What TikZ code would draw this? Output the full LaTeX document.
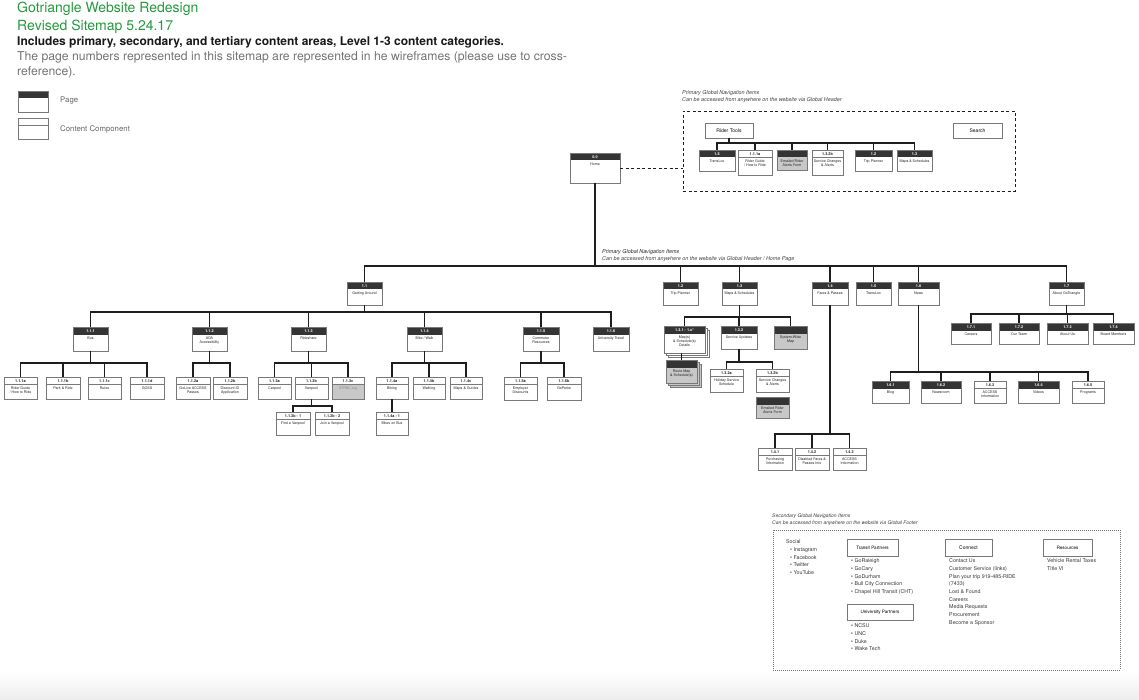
\documentclass[tikz,border=0pt]{standalone}
\usepackage{fontspec}
\setmainfont{TeX Gyre Heros}
\usetikzlibrary{calc}
\definecolor{gtgreen}{RGB}{38,152,62}
\definecolor{hdrc}{RGB}{52,52,52}
\definecolor{lnc}{RGB}{30,30,30}
\definecolor{gboxc}{RGB}{200,200,200}
\definecolor{bordc}{RGB}{120,120,120}
\tikzset{
  conn/.style={draw=lnc, line width=1.1pt},
  boxn/.style={rectangle, fill=white, inner sep=0pt, outer sep=0pt, anchor=north west},
  bord/.style={draw=bordc, line width=0.5pt},
  numw/.style={text=white, font=\bfseries\fontsize{3.8}{4}\selectfont, inner sep=0pt},
  numb/.style={text=black!85, font=\bfseries\fontsize{3.8}{4}\selectfont, inner sep=0pt},
  lbl/.style={anchor=north, align=center, text=black!85, inner sep=0pt, font=\fontsize{3.6}{4.3}\selectfont},
  plainbox/.style={rectangle, draw=bordc, line width=0.6pt, fill=white, inner sep=0pt, outer sep=0pt, anchor=north west},
  txt/.style={inner sep=0pt, anchor=west},
  hd/.style={txt, text=black!75, font=\itshape\fontsize{5.4}{6}\selectfont},
  list/.style={inner sep=0pt, anchor=north west, align=left, text=black!80, font=\fontsize{5.3}{7.7}\selectfont},
}
% name x1 y1 x2 y2 number label
\newcommand\pagenode[7]{%
  \node[boxn, minimum width={#4-#2}, minimum height={#5-#3}] (#1) at (#2,#3) {};
  \fill[hdrc] (#1.north west) rectangle ([yshift=-7.5pt]#1.north east);
  \node[numw] at ([yshift=-3.75pt]#1.north) {#6};
  \node[lbl] at ([yshift=-9.3pt]#1.north) {#7};
  \draw[bord] (#1.north west) rectangle (#1.south east);
}
\newcommand\compnode[7]{%
  \node[boxn, minimum width={#4-#2}, minimum height={#5-#3}] (#1) at (#2,#3) {};
  \draw[bord] ([yshift=-7.5pt]#1.north west) -- ([yshift=-7.5pt]#1.north east);
  \node[numb] at ([yshift=-3.75pt]#1.north) {#6};
  \node[lbl] at ([yshift=-9.3pt]#1.north) {#7};
  \draw[bord] (#1.north west) rectangle (#1.south east);
}
\newcommand\graycomp[7]{%
  \node[boxn, fill=gboxc, minimum width={#4-#2}, minimum height={#5-#3}] (#1) at (#2,#3) {};
  \fill[white] (#1.north west) rectangle ([yshift=-7.5pt]#1.north east);
  \draw[bord] ([yshift=-7.5pt]#1.north west) -- ([yshift=-7.5pt]#1.north east);
  \node[numb] at ([yshift=-3.75pt]#1.north) {#6};
  \node[lbl, text=black!45] at ([yshift=-9.3pt]#1.north) {#7};
  \draw[bord] (#1.north west) rectangle (#1.south east);
}
% name x1 y1 x2 y2 label
\newcommand\graypage[6]{%
  \node[boxn, fill=gboxc, minimum width={#4-#2}, minimum height={#5-#3}] (#1) at (#2,#3) {};
  \fill[hdrc] (#1.north west) rectangle ([yshift=-7.5pt]#1.north east);
  \node[lbl] at ([yshift=-9.3pt]#1.north) {#6};
  \draw[bord] (#1.north west) rectangle (#1.south east);
}
% x1 y1 x2 y2 fill
\newcommand\stackbehind[5]{%
  \draw[bord, fill=#5] (#1+4,#2+4) rectangle (#3+4,#4+4);
  \draw[bord, fill=#5] (#1+2,#2+2) rectangle (#3+2,#4+2);
}
% parent, bus y, children
\newcommand\branch[3]{%
  \foreach \c in {#3}{\draw[conn] (#1.south) -- (#1.south |- 0,#2) -| (\c.north);}
}
\begin{document}
\begin{tikzpicture}[x=1pt,y=-1pt]
\useasboundingbox (0,0) rectangle (1139,700);
\shade[top color=white, bottom color=black!7] (0,672) rectangle (1139,700);

% ---------- title block
\node[txt, text=gtgreen, font=\fontsize{14}{14}\selectfont] (t1) at (17,8.5) {Gotriangle Website Redesign};
\node[txt, text=gtgreen, font=\fontsize{14}{14}\selectfont] (t2) at (17,26.5) {Revised Sitemap 5.24.17};
\node[txt, text=black!90, font=\bfseries\fontsize{12}{12}\selectfont] (t3) at (17,42.5) {Includes primary, secondary, and tertiary content areas, Level 1-3 content categories.};
\node[inner sep=0pt, anchor=north west, align=left, text=black!55, font=\fontsize{12.2}{15}\selectfont] (t4) at (17,51.5) {The page numbers represented in this sitemap are represented in he wireframes (please use to cross-\\reference).};

% ---------- legend
\node[boxn, minimum width=30, minimum height=21] (lgp) at (18,91) {};
\fill[hdrc] (lgp.north west) rectangle ([yshift=-7pt]lgp.north east);
\draw[bord] (lgp.north west) rectangle (lgp.south east);
\node[txt, text=black!60, font=\fontsize{7.8}{8}\selectfont] (lgpt) at (60,101) {Page};
\node[boxn, minimum width=30, minimum height=21] (lgc) at (18,118) {};
\draw[bord] ([yshift=-7pt]lgc.north west) -- ([yshift=-7pt]lgc.north east);
\draw[bord] (lgc.north west) rectangle (lgc.south east);
\node[txt, text=black!60, font=\fontsize{7.8}{8}\selectfont] (lgct) at (60,129) {Content Component};

% ---------- global header group
\node[hd] (gh1) at (682,93) {Primary Global Navigation Items};
\node[hd] (gh2) at (682,100.5) {Can be accessed from anywhere on the website via Global Header};
\node[rectangle, draw=lnc, line width=0.8pt, dash pattern=on 3pt off 2.5pt, inner sep=0pt, outer sep=0pt, anchor=north west, minimum width=332, minimum height=80] (gnav) at (683,111) {};

\node[plainbox, minimum width=48, minimum height=15] (rt) at (705,123) {};
\node[inner sep=0pt, font=\fontsize{5}{5}\selectfont] at (rt.center) {Rider Tools};
\node[plainbox, minimum width=49, minimum height=15] (search) at (953,123) {};
\node[inner sep=0pt, font=\fontsize{5}{5}\selectfont] at (search.center) {Search};

\pagenode{g15}{699}{150}{735}{171}{1.5}{TransLoc}
\compnode{g111a}{738}{150}{772}{175}{1.1.1a}{Rider Guide\\/ How to Ride}
\graypage{gmail}{777}{150}{807}{170}{Emailed Rider\\Alerts Form}
\compnode{g132b}{812}{150}{843}{175}{1.3.2b}{Service Changes\\\& Alerts}
\pagenode{g12}{855}{150}{892}{171}{1.2}{Trip Planner}
\pagenode{g13}{897}{150}{932}{171}{1.3}{Maps \& Schedules}
\branch{rt}{143}{g15,g111a,gmail,g132b,g12,g13}

% ---------- home
\pagenode{home}{570}{153}{620}{183}{0.0}{Home}
\draw[draw=lnc, line width=0.8pt, dash pattern=on 3pt off 2.5pt] (home.east |- 0,168) -- (gnav.west |- 0,168);

% ---------- level 1
\node[hd, text=black!85] (mh1) at (602,252) {Primary Global Navigation Items};
\node[hd] (mh2) at (602,259) {Can be accessed from anywhere on the website via Global Header / Home Page};

\pagenode{n11}{347}{282}{382}{305}{1.1}{Getting Around}
\pagenode{n12}{663}{282}{698}{305}{1.2}{Trip Planner}
\pagenode{n13}{722}{282}{757}{305}{1.3}{Maps \& Schedules}
\pagenode{n14}{812}{282}{848}{305}{1.4}{Fares \& Passes}
\pagenode{n15}{856}{282}{891}{305}{1.5}{TransLoc}
\pagenode{n16}{898}{282}{939}{305}{1.6}{News}
\pagenode{n17}{1049}{282}{1084}{305}{1.7}{About GoTriangle}
\branch{home}{266}{n11,n12,n13,n14,n15,n16,n17}

% ---------- 1.1 getting around
\pagenode{n111}{73}{327}{108}{351}{1.1.1}{Bus}
\pagenode{n112}{192}{327}{227}{351}{1.1.2}{ADA\\Accessibility}
\pagenode{n113}{291}{327}{326}{351}{1.1.3}{Rideshare}
\pagenode{n114}{407}{327}{442}{351}{1.1.4}{Bike / Walk}
\pagenode{n115}{523}{327}{559}{351}{1.1.5}{Commuter\\Resources}
\pagenode{n116}{593}{327}{629}{351}{1.1.6}{University Travel}
\branch{n11}{312}{n111,n112,n113,n114,n115,n116}

\compnode{n111a}{4}{377}{37}{399}{1.1.1a}{Rider Guide\\/ How to Ride}
\compnode{n111b}{46}{377}{80}{399}{1.1.1b}{Park \& Ride}
\compnode{n111c}{88}{377}{121}{399}{1.1.1c}{Rules}
\compnode{n111d}{130}{377}{164}{399}{1.1.1d}{GOSS}
\branch{n111}{363}{n111a,n111b,n111c,n111d}

\compnode{n112a}{176}{377}{210}{399}{1.1.2a}{GoLive ACCESS\\Passes}
\compnode{n112b}{213}{377}{247}{399}{1.1.2b}{Discount ID\\Application}
\branch{n112}{363}{n112a,n112b}

\compnode{n113a}{258}{377}{291}{399}{1.1.3a}{Carpool}
\compnode{n113b}{295}{377}{328}{399}{1.1.3b}{Vanpool}
\graycomp{n113c}{332}{377}{364}{399}{1.1.3c}{STRNC.org}
\branch{n113}{363}{n113a,n113b,n113c}
\compnode{n113b1}{276}{412}{310}{435}{1.1.3b - 1}{Find a Vanpool}
\compnode{n113b2}{315}{412}{349}{435}{1.1.3b - 2}{Join a Vanpool}
\branch{n113b}{406}{n113b1,n113b2}

\compnode{n114a}{376}{377}{408}{399}{1.1.4a}{Biking}
\compnode{n114b}{413}{377}{445}{399}{1.1.4b}{Walking}
\compnode{n114c}{450}{377}{482}{399}{1.1.4c}{Maps \& Guides}
\branch{n114}{363}{n114a,n114b,n114c}
\compnode{n114a1}{376}{412}{408}{435}{1.1.4a - 1}{Bikes on Bus}
\draw[conn] (n114a.south) -- (n114a1.north);

\compnode{n115a}{504}{377}{537}{400}{1.1.5a}{Employer\\Discounts}
\compnode{n115b}{547}{377}{581}{400}{1.1.5b}{GoPerks}
\branch{n115}{363}{n115a,n115b}

% ---------- 1.3 maps & schedules
\stackbehind{664}{326}{705}{353}{white}
\pagenode{n131}{664}{326}{705}{353}{1.3.1 - 1.x*}{Map(s)\\\& Schedule(s)\\Details}
\pagenode{n132}{721}{326}{757}{349}{1.3.2}{Service Updates}
\graypage{nsys}{774}{326}{807}{349}{System-Wide\\Map}
\branch{n13}{317}{n131,n132,nsys}
\stackbehind{666}{360}{697}{383}{gboxc}
\graypage{nroute}{666}{360}{697}{383}{Route Map\\\& Schedule(s)}
\draw[conn] (n131.south -| nroute.north) -- (nroute.north);

\compnode{n132a}{710}{369}{743}{392}{1.3.2a}{Holiday Service\\Schedule}
\compnode{n132b}{756}{369}{789}{392}{1.3.2b}{Service Changes\\\& Alerts}
\branch{n132}{362}{n132a,n132b}
\graypage{nmail}{756}{397}{789}{418}{Emailed Rider\\Alerts Form}

% ---------- 1.4 fares
\compnode{n141}{758}{448}{792}{470}{1.4.1}{Purchasing\\Information}
\compnode{n142}{795}{448}{829}{470}{1.4.2}{Disabled Fares \&\\Passes Info}
\compnode{n143}{833}{448}{866}{470}{1.4.3}{ACCESS\\Information}
\branch{n14}{434}{n141,n142,n143}

% ---------- 1.6 news
\pagenode{n161}{872}{381}{909}{403}{1.6.1}{Blog}
\pagenode{n162}{921}{381}{961}{403}{1.6.2}{Newsroom}
\compnode{n163}{974}{381}{1006}{403}{1.6.3}{ACCESS\\Information}
\pagenode{n164}{1018}{381}{1059}{403}{1.6.4}{Videos}
\compnode{n165}{1072}{381}{1104}{403}{1.6.5}{Programs}
\branch{n16}{372}{n161,n162,n163,n164,n165}

% ---------- 1.7 about
\pagenode{n171}{951}{323}{991}{344}{1.7.1}{Careers}
\pagenode{n172}{999}{323}{1039}{344}{1.7.2}{Our Team}
\pagenode{n173}{1047}{323}{1088}{344}{1.7.3}{About Us}
\pagenode{n174}{1093}{323}{1134}{344}{1.7.4}{Board Members}
\branch{n17}{314}{n171,n172,n173,n174}

% ---------- footer
\node[hd, font=\itshape\fontsize{5}{6}\selectfont] (fh1) at (772,516) {Secondary Global Navigation Items};
\node[hd, font=\itshape\fontsize{5}{6}\selectfont] (fh2) at (772,523) {Can be accessed from anywhere on the website via Global Footer};
\node[rectangle, draw=black!55, line width=0.6pt, dash pattern=on 0.7pt off 1.3pt, inner sep=0pt, outer sep=0pt, anchor=north west, minimum width=347, minimum height=140] (foot) at (773,530) {};

\node[list] (social) at (786,539.5) {Social\\\hspace{4pt}\textbullet\ Instagram\\\hspace{4pt}\textbullet\ Facebook\\\hspace{4pt}\textbullet\ Twitter\\\hspace{4pt}\textbullet\ YouTube};

\node[plainbox, minimum width=51, minimum height=17] (tp) at (847,539) {};
\node[inner sep=0pt, font=\fontsize{4.6}{5}\selectfont] at (tp.center) {Transit Partners};
\node[list] (tpl) at (851,558.5) {\textbullet\ GoRaleigh\\\textbullet\ GoCary\\\textbullet\ GoDurham\\\textbullet\ Bull City Connection\\\textbullet\ Chapel Hill Transit (CHT)};

\node[plainbox, minimum width=66, minimum height=16] (up) at (847,604) {};
\node[inner sep=0pt, font=\fontsize{4.6}{5}\selectfont] at (up.center) {University Partners};
\node[list] (upl) at (851,623.5) {\textbullet\ NCSU\\\textbullet\ UNC\\\textbullet\ Duke\\\textbullet\ Wake Tech};

\node[plainbox, minimum width=47, minimum height=17] (cn) at (945,539) {};
\node[inner sep=0pt, font=\fontsize{5}{5}\selectfont] at (cn.center) {Connect};
\node[list] (cnl) at (949,558.5) {Contact Us\\Customer Service (links)\\Plan your trip 919-485-RIDE\\(7433)\\Lost \& Found\\Careers\\Media Requests\\Procurement\\Become a Sponsor};

\node[plainbox, minimum width=49, minimum height=17] (rs) at (1043,539) {};
\node[inner sep=0pt, font=\fontsize{4.6}{5}\selectfont] at (rs.center) {Resources};
\node[list] (rsl) at (1047,558.5) {Vehicle Rental Taxes\\Title VI};
\end{tikzpicture}
\end{document}
